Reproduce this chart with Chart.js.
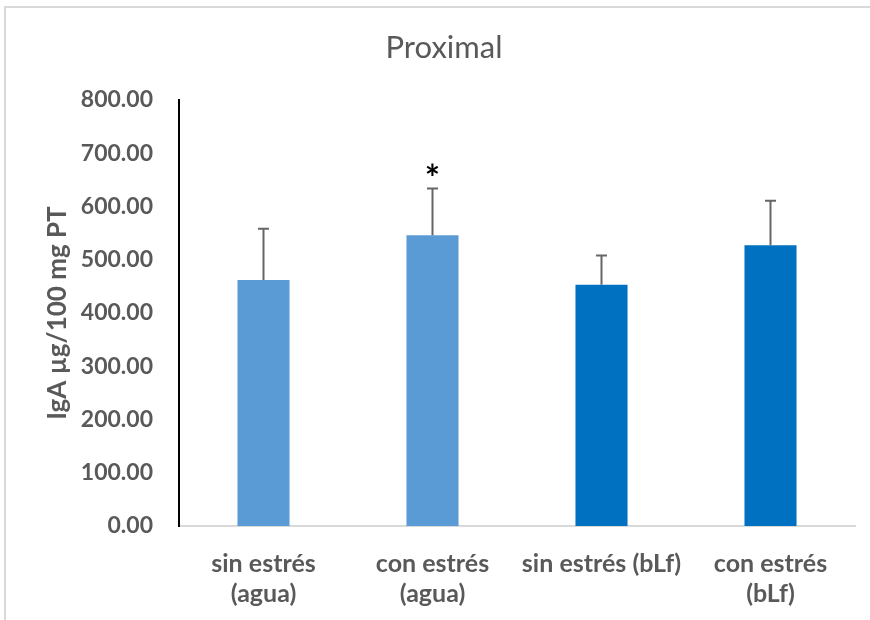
<!DOCTYPE html>
<html>
<head>
<meta charset="utf-8">
<script src="https://cdn.jsdelivr.net/npm/chart.js@4.4.1/dist/chart.umd.min.js"></script>
<style>
  html, body { margin: 0; padding: 0; background: #fff; }
  #wrap { position: relative; width: 870px; height: 620px; }
</style>
</head>
<body>
<div id="wrap"><canvas id="c" width="870" height="620"></canvas></div>
<script>
// Groups and measured IgA levels (mean and upper error)
const categories = [['sin estrés', '(agua)'], ['con estrés', '(agua)'], 'sin estrés (bLf)', ['con estrés', '(bLf)']];
const means = [462, 546, 453, 527];
const errors = [96, 88, 55, 84];
const marks = ['', '*', '', ''];
const barColors = ['#5B9BD5', '#5B9BD5', '#0070C0', '#0070C0'];
const yMin = 0, yMax = 800, yStep = 100;
const chartTitle = 'Proximal';

const FONT = "Lato, 'Open Sans', sans-serif";
const GREY = '#595959';

// Light frame around the chart panel, plus the panel heading
const framePlugin = {
  id: 'frame',
  beforeDraw(chart) {
    const ctx = chart.ctx;
    ctx.save();
    ctx.strokeStyle = '#D9D9D9';
    ctx.lineWidth = 2;
    ctx.beginPath();
    ctx.moveTo(5, 640);
    ctx.lineTo(5, 7);
    ctx.lineTo(880, 7);
    ctx.stroke();
    ctx.fillStyle = GREY;
    ctx.font = '31px ' + FONT;
    ctx.textAlign = 'center';
    ctx.textBaseline = 'middle';
    ctx.fillText(chartTitle, 444, 48);
    ctx.restore();
  }
};

// Upper error whiskers and significance marks
const errorPlugin = {
  id: 'errorBars',
  afterDatasetsDraw(chart) {
    const ctx = chart.ctx;
    const xs = chart.scales.x, ys = chart.scales.y;
    ctx.save();
    ctx.strokeStyle = '#666666';
    ctx.lineWidth = 2;
    means.forEach((m, i) => {
      const x = xs.getPixelForValue(i);
      const y0 = ys.getPixelForValue(m);
      const y1 = ys.getPixelForValue(m + errors[i]);
      ctx.beginPath();
      ctx.moveTo(x, y0);
      ctx.lineTo(x, y1);
      ctx.moveTo(x - 5.5, y1);
      ctx.lineTo(x + 5.5, y1);
      ctx.stroke();
      if (marks[i]) {
        ctx.fillStyle = '#000';
        ctx.font = 'bold 36px ' + FONT;
        ctx.textAlign = 'center';
        ctx.textBaseline = 'alphabetic';
        ctx.fillText(marks[i], x, y1 + 3);
      }
    });
    ctx.restore();
  }
};

new Chart(document.getElementById('c'), {
  type: 'bar',
  data: {
    labels: categories,
    datasets: [{
      data: means,
      backgroundColor: barColors,
      borderWidth: 0,
      barPercentage: 0.308,
      categoryPercentage: 1
    }]
  },
  options: {
    responsive: false,
    animation: false,
    devicePixelRatio: 1,
    layout: { padding: { left: 0, right: 15, top: 100, bottom: 0 } },
    plugins: {
      legend: { display: false },
      tooltip: { enabled: false },
      title: { display: false }
    },
    scales: {
      x: {
        grid: { display: false, drawTicks: false },
        border: { display: true, color: '#D9D9D9', width: 2 },
        ticks: {
          color: GREY,
          font: { family: FONT, size: 25, weight: 'bold', lineHeight: 1.2 },
          padding: 23,
          maxRotation: 0,
          autoSkip: false
        },
        afterFit(scale) { scale.height = 94; }
      },
      y: {
        min: yMin,
        max: yMax,
        grid: { display: false, drawTicks: false },
        border: { display: true, color: '#000', width: 2 },
        ticks: {
          stepSize: yStep,
          color: GREY,
          font: { family: FONT, size: 23, weight: 'bold' },
          padding: 26,
          callback: v => Number(v).toFixed(2)
        },
        title: {
          display: true,
          text: 'IgA µg/100 mg PT',
          color: GREY,
          font: { family: FONT, size: 26, weight: 'bold', lineHeight: 1.2 },
          padding: { top: 42, bottom: 0 }
        },
        afterFit(scale) { scale.width = 179; }
      }
    }
  },
  plugins: [framePlugin, errorPlugin]
});
</script>
</body>
</html>
